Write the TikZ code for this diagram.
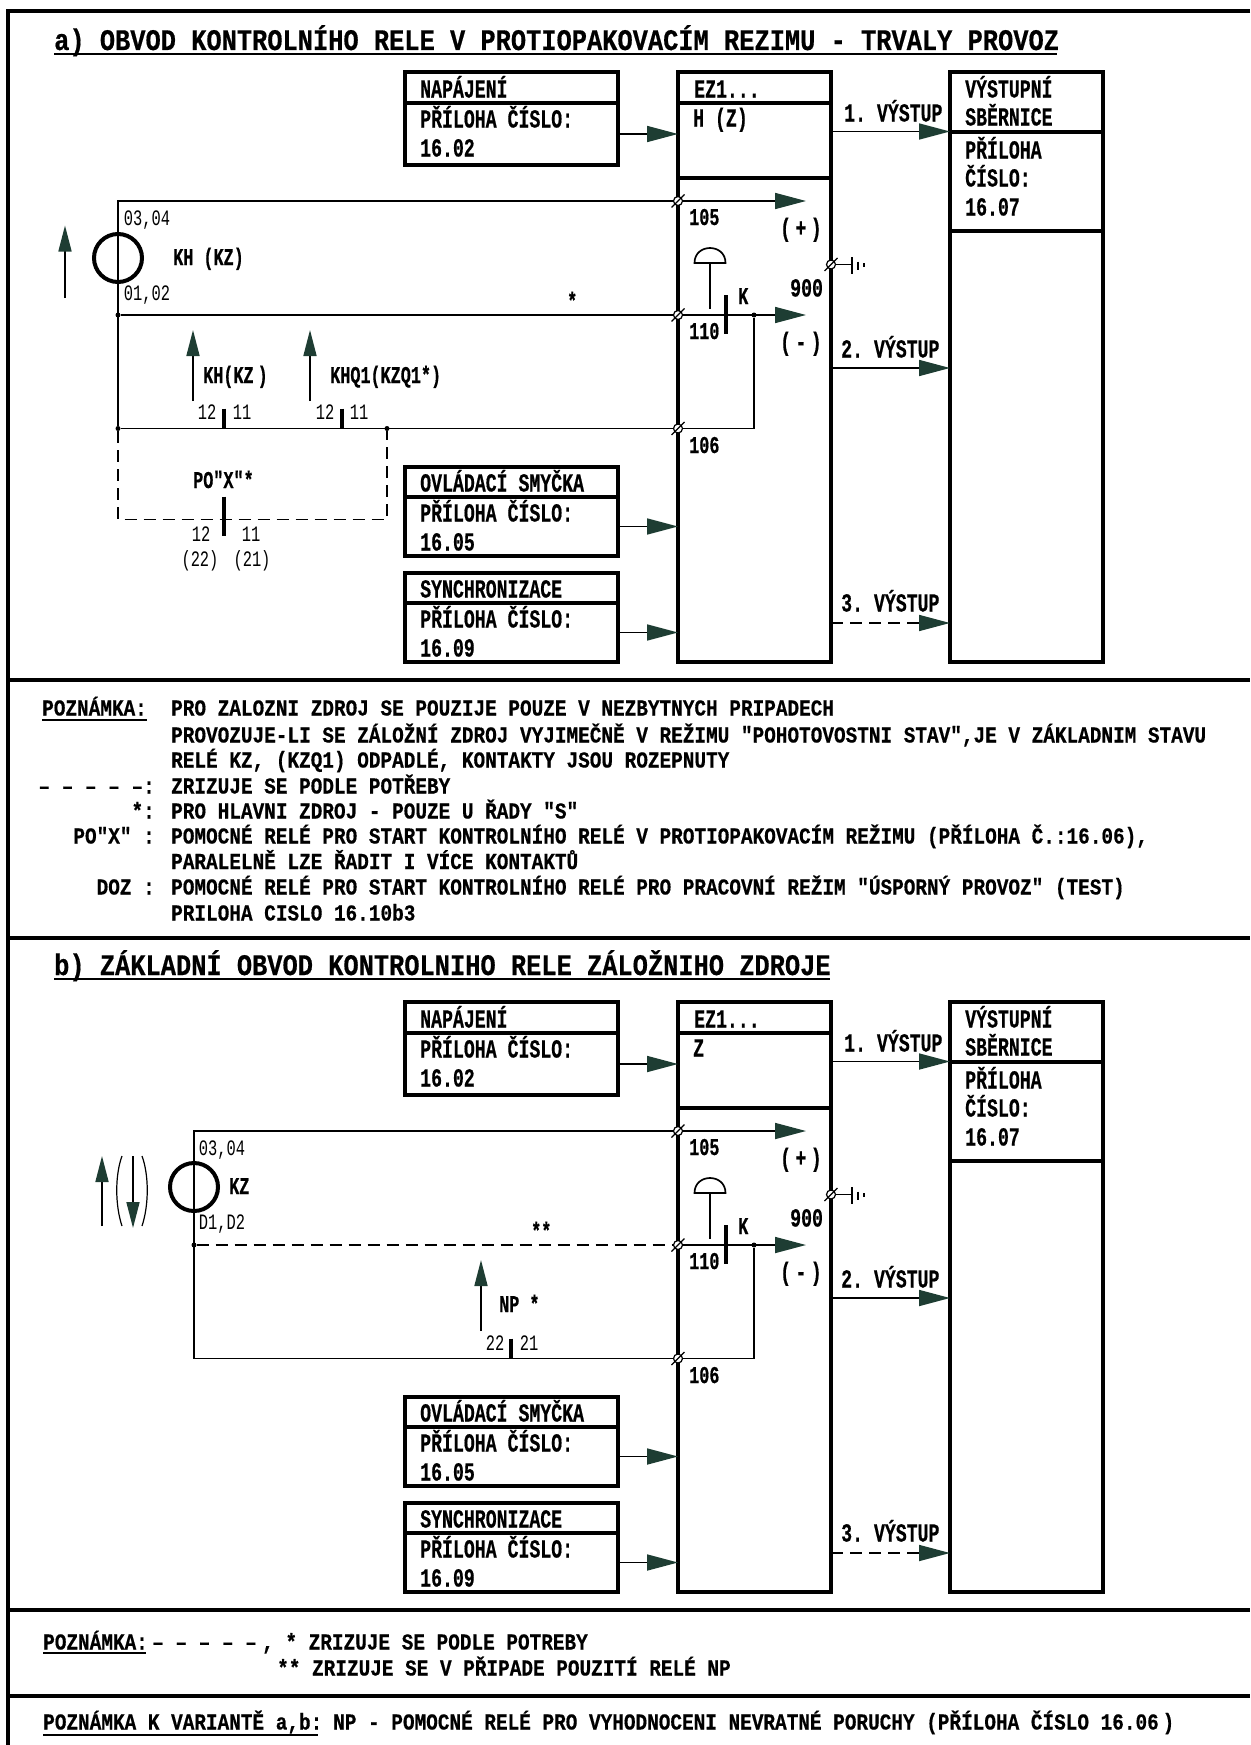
\documentclass[tikz,border=0pt]{standalone}
\usepackage{fontspec}
\usetikzlibrary{arrows.meta}
\newfontfamily\cadwide[FakeStretch=0.85,BoldFeatures={FakeBold=0.5}]{Liberation Mono}
\newfontfamily\cadnarrow[FakeStretch=0.7,BoldFeatures={FakeBold=0.5}]{Liberation Mono}
\definecolor{arrowgreen}{HTML}{1E3D33}
\tikzset{
  x=1pt, y=-1pt,
  frame/.style={line width=4pt},
  cell/.style={draw, line width=4pt, inner sep=0pt, outer sep=0pt},
  wire/.style={line width=1.7pt},
  wiredash/.style={wire, dash pattern=on 12pt off 7pt},
  bar/.style={line width=4pt},
  uline/.style={line width=1.5pt},
  bigarrow/.style={-{Triangle[length=31pt, width=16pt, color=arrowgreen]}},
  smallarrow/.style={-{Triangle[length=26pt, width=13pt, color=arrowgreen]}},
  coil/.style={draw, circle, line width=4pt, minimum size=48pt, inner sep=0pt},
  termi/.style={draw, circle, fill=white, line width=1.2pt, minimum size=9pt, inner sep=0pt},
  jdot/.style={fill, circle, minimum size=5pt, inner sep=0pt},
  headtext/.style={anchor=base west, inner sep=0pt, yshift=-10pt, font=\cadwide\bfseries\fontsize{29.85}{30}\selectfont},
  notetext/.style={anchor=base west, inner sep=0pt, yshift=-7.5pt, font=\cadwide\bfseries\fontsize{22.8}{22.8}\selectfont},
  boxtext/.style={anchor=base west, inner sep=0pt, yshift=-8.5pt, font=\cadnarrow\bfseries\fontsize{26}{26}\selectfont},
  smalltext/.style={anchor=base, inner sep=0pt, yshift=-7.5pt, font=\cadnarrow\fontsize{22}{22}\selectfont},
  marktext/.style={anchor=base west, inner sep=0pt, yshift=-8pt, font=\cadnarrow\bfseries\fontsize{24}{24}\selectfont},
}
\begin{document}
\frenchspacing
\begin{tikzpicture}
    \useasboundingbox (0,0) rectangle (1250,1745);
    \draw[frame] (1250,11) -- (8,11) -- (8,1745);
    \foreach \ly in {680, 938, 1610, 1696} {
      \draw[frame] (8,\ly) -- (1250,\ly);
    }
    \foreach \s/\dy/\ezlab in {a/0/H (Z), b/930/Z} {
      \begin{scope}[shift={(0,\dy)}]
      \foreach \nm/\xa/\ya/\xb/\yb in {nap1/405/72/618/103, nap2/405/103/618/165, ovl1/405/467/618/497, ovl2/405/497/618/556, syn1/405/573/618/603, syn2/405/603/618/662, ez1/678/72/831/103, ez2/678/103/831/178, ez3/678/178/831/662, vys1/950/72/1103/132, vys2/950/132/1103/231, vys3/950/231/1103/662} {
        \node[cell, minimum width={(\xb-\xa)*1pt}, minimum height={(\yb-\ya)*1pt}] (\nm\s) at ({(\xa+\xb)/2},{(\ya+\yb)/2}) {};
      }
      \foreach [count=\i] \lx/\ly/\txt in {420/89/NAPÁJENÍ, 420/119/PŘÍLOHA ČÍSLO:, 420/148/16.02, 420/483/OVLÁDACÍ SMYČKA, 420/513/PŘÍLOHA ČÍSLO:, 420/542/16.05, 420/589/SYNCHRONIZACE, 420/619/PŘÍLOHA ČÍSLO:, 420/648/16.09, 693/118/\ezlab, 965/89/VÝSTUPNÍ, 965/117/SBĚRNICE, 965/150/PŘÍLOHA, 965/178/ČÍSLO:, 965/207/16.07, 844/113/1. VÝSTUP, 841/349/2. VÝSTUP, 841/603/3. VÝSTUP, 780/228/(\,+\,), 780/342/(\,-\,), 790/288/900} {
        \node[boxtext] (lab\s\i) at (\lx,\ly) {\txt};
      }
      \node[boxtext] (ezname\s) at (694,89) {EZ1...};
      \foreach [count=\i] \lx/\ly/\txt in {689/217/105, 689/331/110, 689/445/106, 738/296/K} {
        \node[marktext] (num\s\i) at (\lx,\ly) {\txt};
      }
      \node[termi] (t105\s) at (678,201) {};
      \node[termi] (t110\s) at (678,315) {};
      \node[termi] (t106\s) at (678,428.5) {};
      \node[termi] (t900\s) at (831,264.5) {};
      \foreach \tm in {t105\s, t110\s, t106\s, t900\s} {
        \draw[line width=1.2pt] ([shift={(-6.5,6.5)}]\tm.center) -- ([shift={(6.5,-6.5)}]\tm.center);
      }
      \coordinate (plus\s) at (806,201);
      \coordinate (minus\s) at (806,315);
      \node[jdot] (jk\s) at (754,315) {};
      \coordinate (out1\s) at (831,131.5);
      \coordinate (out2\s) at (831,368);
      \coordinate (out3\s) at (831,623);
      \draw[wire, bigarrow] (t105\s) -- (plus\s);
      \draw[wire, bigarrow] (t110\s) -- (minus\s);
      \draw[wire] (jk\s) -- (jk\s |- t106\s) -- (t106\s);
      \draw[wire] (t900\s) -- (852,264.5);
      \draw[wire] (852,257) -- (852,274);
      \draw[wire] (858,261.5) -- (858,270);
      \draw[wire] (864,263) -- (864,267);
      \draw[wire] (694.5,263) .. controls (694.5,243) and (725.5,243) .. (725.5,263) -- cycle;
      \draw[wire] (710,263) -- (710,309);
      \draw[bar] (726,295) -- (726,334);
      \draw[wire, bigarrow] (nap2\s.east) -- (nap2\s.east -| ez2\s.west);
      \draw[wire, bigarrow] (ovl2\s.east) -- (ovl2\s.east -| ez3\s.west);
      \draw[wire, bigarrow] (syn2\s.east) -- (syn2\s.east -| ez3\s.west);
      \draw[wire, bigarrow] (out1\s) -- (out1\s -| vys1\s.west);
      \draw[wire, bigarrow] (out2\s) -- (out2\s -| vys3\s.west);
      \draw[wire, dash pattern=on 12pt off 7pt, bigarrow] (out3\s) -- (out3\s -| vys3\s.west);
      \end{scope}
    }
    \node[coil] (kh) at (118,258) {};
    \node[jdot] (j01) at (118,315) {};
    \node[jdot] (j02) at (118,428.5) {};
    \node[jdot] (j03) at (387,428.5) {};
    \draw[wire] (t105a) -- (t105a -| kh) -- (j02);
    \draw[wire] (j01) -- (t110a);
    \draw[wire] (j02) -- (t106a);
    \draw[wiredash] (j02) -- (118,519.5) -- (387,519.5) -- (j03);
    \draw[bar] (224,408.5) -- (224,428.5);
    \draw[bar] (342,408.5) -- (342,428.5);
    \draw[bar] (224,496.5) -- (224,535.5);
    \draw[wire, smallarrow] (65,298) -- (65,225.5);
    \draw[wire, smallarrow] (193,401) -- (193,330);
    \draw[wire, smallarrow] (310,401) -- (310,330);
    \foreach [count=\i] \lx/\ly/\txt in {147/218/{03,04}, 147/293/{01,02}, 207/412/12, 242/412/11, 325/412/12, 359/412/11, 201/534/12, 251/534/11, 200/559/(22), 252/559/(21)} {
      \node[smalltext] (pin\i) at (\lx,\ly) {\txt};
    }
    \foreach [count=\i] \lx/\ly/\txt in {173/257/KH (KZ), 203/375/KH(KZ\,), 330/375/KHQ1(KZQ1*), 193/480/{PO"X"*}, 567/301/*} {
      \node[marktext] (rel\i) at (\lx,\ly) {\txt};
    }
    \node[coil] (kz) at (194,1187) {};
    \node[jdot] (j11) at (194,1245) {};
    \draw[wire] (t105b) -- (t105b -| kz) -- (194,1358.5) -- (t106b);
    \draw[wiredash] (j11) -- (t110b);
    \draw[bar] (511,1338.5) -- (511,1358.5);
    \draw[wire, smallarrow] (102,1226) -- (102,1156);
    \draw[wire, smallarrow] (133,1156) -- (133,1228);
    \draw[line width=1.2pt] (122,1156) .. controls (115,1175) and (115,1205) .. (122,1226);
    \draw[line width=1.2pt] (142,1156) .. controls (149,1175) and (149,1205) .. (142,1226);
    \draw[wire, smallarrow] (481,1331) -- (481,1260);
    \foreach [count=\i] \lx/\ly/\txt in {222/1148/{03,04}, 222/1222/{D1,D2}, 495/1343/22, 529/1343/21} {
      \node[smalltext] (pinb\i) at (\lx,\ly) {\txt};
    }
    \foreach [count=\i] \lx/\ly/\txt in {229/1186/KZ, 499/1304/NP *, 531/1231/**} {
      \node[marktext] (relb\i) at (\lx,\ly) {\txt};
    }
    \node[headtext] (tita) at (54,40) {a) OBVOD KONTROLNÍHO RELE V PROTIOPAKOVACÍM REZIMU - TRVALY PROVOZ};
    \node[headtext] (titb) at (54,965) {b) ZÁKLADNÍ OBVOD KONTROLNIHO RELE ZÁLOŽNIHO ZDROJE};
    \draw[uline] (54,54) -- (1057,54);
    \draw[uline] (54,979) -- (830,979);
    \foreach [count=\i] \ly/\txt in {708/PRO ZALOZNI ZDROJ SE POUZIJE POUZE V NEZBYTNYCH PRIPADECH, 735/{PROVOZUJE-LI SE ZÁLOŽNÍ ZDROJ VYJIMEČNĚ V REŽIMU "POHOTOVOSTNI STAV",JE V ZÁKLADNIM STAVU}, 760/{RELÉ KZ, (KZQ1) ODPADLÉ, KONTAKTY JSOU ROZEPNUTY}, 786/ZRIZUJE SE PODLE POTŘEBY, 811/PRO HLAVNI ZDROJ - POUZE U ŘADY "S", 836/{POMOCNÉ RELÉ PRO START KONTROLNÍHO RELÉ V PROTIOPAKOVACÍM REŽIMU (PŘÍLOHA Č.:16.06),}, 861.5/PARALELNĚ LZE ŘADIT I VÍCE KONTAKTŮ, 887/POMOCNÉ RELÉ PRO START KONTROLNÍHO RELÉ PRO PRACOVNÍ REŽIM "ÚSPORNÝ PROVOZ" (TEST), 913/PRILOHA CISLO 16.10b3} {
      \node[notetext] (note\i) at (171,\ly) {\txt};
    }
    \node[notetext] (poza) at (42,708) {POZNÁMKA:};
    \draw[uline] (42,720) -- (147,720);
    \foreach [count=\i] \ly/\txt in {786/– – – – –:, 811/*:, 836/{PO"X" :}, 887/DOZ :} {
      \node[notetext, anchor=base east] (key\i) at (155,\ly) {\txt};
    }
    \node[notetext] (pozb) at (43,1642) {POZNÁMKA:};
    \draw[uline] (43,1653) -- (146,1653);
    \node[notetext] (dashb) at (152,1642) {– – – – –};
    \node[notetext] (dashc) at (262,1642) {, * ZRIZUJE SE PODLE POTREBY};
    \node[notetext] (dashd) at (277,1668) {** ZRIZUJE SE V PŘIPADE POUZITÍ RELÉ NP};
    \node[notetext] (pozc) at (43,1722) {POZNÁMKA K VARIANTĚ a,b:};
    \draw[uline] (43,1735) -- (318,1735);
    \node[notetext] (npnote) at (333,1722) {NP - POMOCNÉ RELÉ PRO VYHODNOCENI NEVRATNÉ PORUCHY (PŘÍLOHA ČÍSLO 16.06\,)};
\end{tikzpicture}
\end{document}
